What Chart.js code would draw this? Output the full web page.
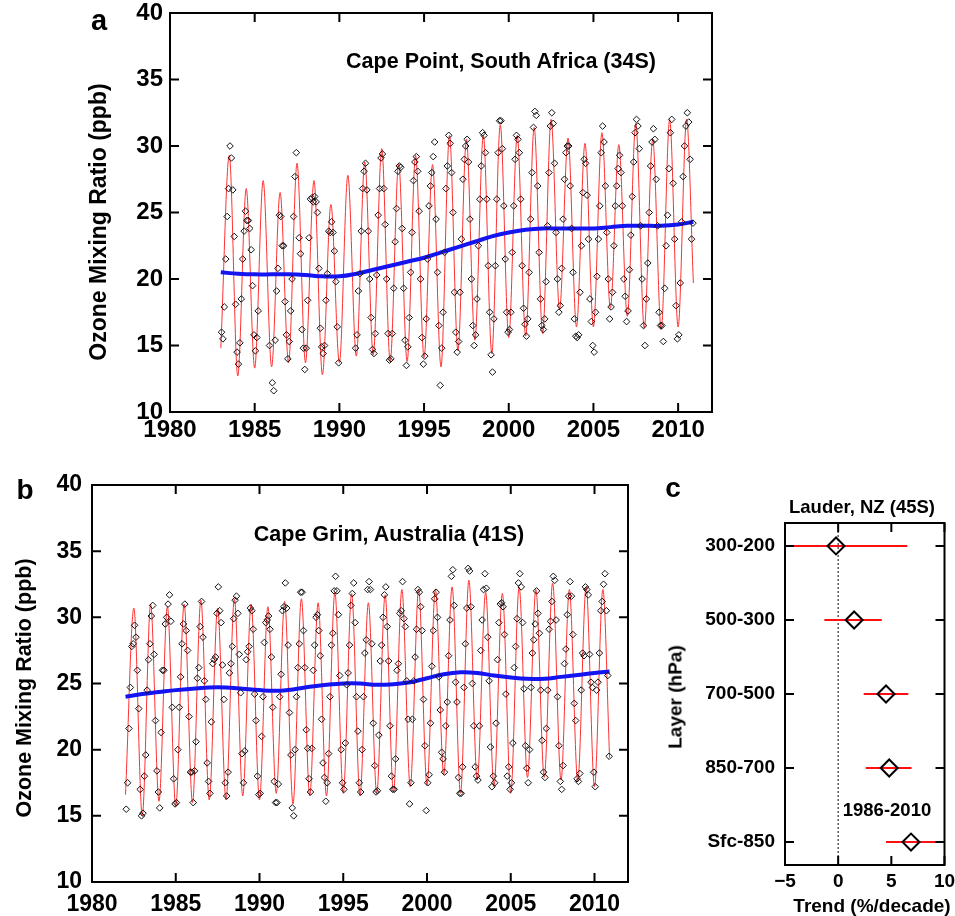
<!DOCTYPE html>
<html>
<head>
<meta charset="utf-8">
<script src="https://cdn.jsdelivr.net/npm/chart.js@4.4.1/dist/chart.umd.min.js"></script>
<style>
html, body { margin: 0; padding: 0; background: #fff; }
#page { position: relative; width: 955px; height: 916px; overflow: hidden; background: #fff;
        font-family: "Liberation Sans", Arial, sans-serif; font-weight: bold; color: #000; }
#page canvas { position: absolute; }
.lbl { position: absolute; white-space: nowrap; line-height: 1; transform: translate(-50%, -50%); }
.vlbl { position: absolute; white-space: nowrap; line-height: 1; transform: translate(-50%, -50%) rotate(-90deg); }
</style>
</head>
<body>
<div id="page">
  <canvas id="chartA" width="740" height="460" style="left:0;top:0"></canvas>
  <canvas id="chartB" width="650" height="446" style="left:0;top:470px"></canvas>
  <canvas id="chartC" width="305" height="446" style="left:650px;top:470px"></canvas>

  <div class="lbl" style="left:99px;top:20px;font-size:29px">a</div>
  <div class="lbl" style="left:25px;top:490px;font-size:28px">b</div>
  <div class="lbl" style="left:673px;top:488px;font-size:28px">c</div>

  <div class="lbl" style="left:501px;top:62px;font-size:21.5px">Cape Point, South Africa (34S)</div>
  <div class="lbl" style="left:389px;top:535px;font-size:21.5px">Cape Grim, Australia (41S)</div>
  <div class="lbl" style="left:862px;top:507px;font-size:18.5px">Lauder, NZ (45S)</div>
  <div class="lbl" style="left:887px;top:810px;font-size:18.5px">1986-2010</div>

  <div class="vlbl" style="left:98px;top:222px;font-size:23px">Ozone Mixing Ratio (ppb)</div>
  <div class="vlbl" style="left:25px;top:688px;font-size:21.5px">Ozone Mixing Ratio (ppb)</div>
  <div class="vlbl" style="left:675px;top:697px;font-size:19px">Layer (hPa)</div>
  <div class="lbl" style="left:872px;top:905px;font-size:19px">Trend (%/decade)</div>
</div>

<script>
// ---- Cape Point (panel a): monthly observations, one row per year, Jan..Dec
const capePointFirstYear = 1983;
const capePointMonthly = [
  [16.0, 15.5, 17.9, 21.5, 24.7, 26.8, 30.0, 29.1, 26.7, 23.2, 18.1, 14.5],
  [13.6, 15.2, 18.5, 21.5, 23.6, 25.1, 24.4, 24.4, 23.8, 22.2, 19.5, 15.8],
  [14.6, 15.6, 17.6, null, null, null, null, null, null, null, 15.0, null],
  [12.2, 11.6, 15.4, 19.1, 20.8, 24.8, 24.7, 22.5, 22.5, 18.3, 15.8, 14.0],
  [15.3, 17.6, 20.0, 24.7, 27.7, 29.5, null, 23.1, 21.9, 16.2, 14.8, 13.2],
  [14.8, 18.4, 23.1, 26.0, 26.1, 25.8, 26.2, 25.8, 25.0, 20.8, 16.3, 14.9],
  [14.4, 15.0, 18.4, 20.4, 23.6, 23.5, 24.3, 23.5, 22.1, 19.8, 16.4, 13.7],
  [null, null, null, null, null, null, null, null, null, null, null, 14.8],
  [15.8, 19.1, 20.4, 23.6, 26.8, 28.1, 28.7, 26.7, 23.6, 20.0, 17.1, 14.7],
  [14.4, 15.9, 20.3, 24.8, 26.8, 29.1, 29.4, 26.8, 24.1, 20.0, 15.9, 13.9],
  [14.0, 15.9, 19.3, 22.8, 25.3, 28.1, 28.5, 28.4, 23.8, 19.3, 15.4, 13.5],
  [14.9, 17.1, 20.5, 23.5, 27.4, 28.8, 29.2, 28.1, 25.1, 20.0, 15.6, 13.6],
  [14.2, 17.0, 21.5, 25.5, 27.0, 28.0, 29.2, 30.3, 24.5, 20.5, 16.5, 12.0],
  [14.8, 17.5, 22.0, 26.8, 28.5, 30.8, 30.2, 28.0, 25.0, 19.0, 16.0, 14.5],
  [15.3, 19.0, 23.0, 27.5, 29.0, 30.0, 30.5, 28.8, 24.5, 20.0, 16.5, 15.0],
  [15.8, 18.5, 22.5, 26.0, 28.5, 31.0, 30.8, 29.5, 26.0, 21.0, 17.5, 14.3],
  [13.0, 17.0, 21.0, 26.0, 29.5, 31.9, 31.9, 29.8, 25.5, 21.5, 17.5, 16.0],
  [16.2, 17.5, 22.0, 25.5, 29.0, 30.8, 30.5, 29.5, 26.0, 21.0, 17.8, 16.6],
  [15.7, 17.0, 20.5, 24.5, 28.0, 31.4, 32.6, 32.3, 27.0, 22.0, 18.5, 16.5],
  [16.2, 17.0, 19.8, 24.0, 28.0, 31.5, 32.5, 31.7, 28.7, 23.5, 20.0, 17.5],
  [18.0, 20.8, 24.5, 27.5, 29.5, 30.0, 30.0, 27.0, 23.8, 20.5, 17.0, 15.7],
  [15.6, 15.8, 19.0, 22.5, 26.5, 29.0, 28.7, 26.3, 23.0, 18.5, 16.8, 15.0],
  [14.5, 17.5, 20.2, 23.0, 25.5, 29.5, 31.5, 30.3, 27.0, 23.5, 20.0, 17.0],
  [17.9, 19.0, 22.5, 25.5, 27.0, 28.3, 29.3, 28.0, 25.5, 20.0, 18.7, 16.8],
  [17.6, 20.7, 23.3, 26.2, 28.8, 31.0, 32.0, 31.5, 29.8, 24.0, 20.0, 16.5],
  [15.0, 18.5, 21.2, 25.0, 28.5, 30.3, 31.3, 30.5, 27.5, 24.0, 17.5, 16.5],
  [16.5, 15.3, 19.3, 22.5, 24.8, 28.3, 31.0, 32.0, 27.2, 23.0, 18.0, 15.5],
  [15.8, 19.7, 24.3, 27.7, 30.0, 31.5, 32.5, 31.8, 29.0, 23.0, 24.2, null]
];
// seasonal fit (red): [year, ppb] at summer minima / winter maxima
const capePointFit = [
  [1983.0, 14.8], [1983.5, 29.3], [1984.0, 12.7], [1984.5, 26.8], [1985.0, 13.3], [1985.5, 27.4],
  [1986.0, 13.4], [1986.5, 26.5], [1987.0, 13.7], [1987.5, 28.7], [1988.0, 13.7], [1988.5, 27.4],
  [1989.0, 12.8], [1989.5, 25.6], [1990.0, 13.7], [1990.5, 27.8], [1991.0, 14.2], [1991.5, 28.8],
  [1992.0, 14.3], [1992.5, 29.8], [1993.0, 13.8], [1993.5, 28.7], [1994.0, 13.8], [1994.5, 29.3],
  [1995.0, 14.1], [1995.5, 28.6], [1996.0, 13.4], [1996.5, 30.8], [1997.0, 14.6], [1997.5, 30.5],
  [1998.0, 15.4], [1998.5, 30.8], [1999.0, 14.4], [1999.5, 31.6], [2000.0, 15.6], [2000.5, 30.8],
  [2001.0, 15.7], [2001.5, 31.4], [2002.0, 15.9], [2002.5, 32.0], [2003.0, 17.7], [2003.5, 30.6],
  [2004.0, 16.4], [2004.5, 30.2], [2005.0, 16.4], [2005.5, 31.0], [2006.0, 17.8], [2006.5, 30.1],
  [2007.0, 17.2], [2007.5, 31.7], [2008.0, 16.3], [2008.5, 30.5], [2009.0, 16.2], [2009.5, 32.0],
  [2010.0, 16.4], [2010.5, 32.0], [2010.9, 19.7]
];
// trend (blue)
const capePointTrendYears = [1983, 1984, 1985, 1986, 1987, 1988, 1989, 1990, 1991, 1992, 1993, 1994, 1995, 1996,
  1997, 1998, 1999, 2000, 2001, 2002, 2003, 2004, 2005, 2006, 2007, 2008, 2009, 2010, 2010.9];
const capePointTrend = [20.5, 20.4, 20.35, 20.35, 20.35, 20.3, 20.2, 20.2, 20.4, 20.7, 21.0, 21.3, 21.6, 22.0,
  22.4, 22.8, 23.2, 23.5, 23.7, 23.8, 23.8, 23.8, 23.8, 23.9, 24.0, 24.0, 24.0, 24.1, 24.3];

// ---- Cape Grim (panel b)
const capeGrimFirstYear = 1982;
const capeGrimMonthly = [
  [15.5, 17.5, 21.6, 24.7, 27.8, 28.0, 29.4, 28.5, 26.0, 23.1, 17.0, 15.0],
  [15.2, 18.0, 19.6, 24.5, 26.8, 28.0, 30.1, 30.9, 27.2, 22.2, 18.4, 16.8],
  [15.6, 21.3, 26.0, 26.0, 29.5, 30.0, 31.0, 31.7, 29.7, 23.2, 17.8, 15.9],
  [16.0, 20.0, 23.2, 25.5, 28.0, 29.5, 31.0, 29.0, 27.5, 22.5, 18.3, 18.3],
  [16.0, 18.4, 20.6, 25.4, 26.2, 29.3, 31.2, 28.5, 25.2, 23.8, 19.0, 17.6],
  [16.7, 22.1, 26.5, 26.8, 27.0, 30.3, 32.3, 30.5, 29.6, 26.4, 23.8, 17.5],
  [16.5, 18.3, 25.8, 26.5, 27.8, 29.9, 31.3, 31.6, 30.3, 27.2, 24.3, 19.7],
  [17.5, 19.9, 26.8, 27.4, 27.8, 30.7, 30.5, 29.1, 24.2, 22.2, 18.0, 16.6],
  [16.7, 21.0, 24.0, 28.1, 29.6, 29.8, 30.1, 29.1, 27.0, 23.2, 17.6, 16.0],
  [16.0, 17.4, 24.0, 25.7, 30.5, 30.8, 32.6, 30.7, 27.9, 22.8, 19.6, 15.6],
  [15.0, 20.0, 24.0, 26.2, 28.0, 31.9, 31.9, 29.0, 26.2, 21.5, 20.1, 17.8],
  [16.8, 20.1, 26.0, 27.9, 30.0, 30.2, 29.0, 27.1, 22.3, 19.0, 17.9, 16.1],
  [17.5, 19.7, 24.0, 27.9, 28.8, 32.0, 33.1, 32.0, 30.2, 25.6, 20.0, 17.5],
  [17.0, 20.5, 24.9, 25.8, 27.9, 30.9, 31.8, 32.6, 29.6, 24.0, 21.4, 17.5],
  [16.8, 20.0, 24.0, 27.3, 28.3, 32.1, 32.7, 32.1, 28.0, 22.0, 18.8, 16.8],
  [16.9, 21.1, 26.7, 27.9, 30.0, 31.7, 32.3, 29.3, 26.7, 21.8, 18.0, 17.0],
  [17.0, 19.3, 26.0, 26.5, 30.3, 30.5, 32.7, 29.9, 29.3, 25.2, 22.3, 15.9],
  [17.5, 22.3, 25.2, 27.0, 29.1, 32.1, 31.9, 30.8, 29.0, 23.8, 20.3, 15.4],
  [17.5, 18.1, 22.0, 26.3, 29.0, 31.4, 31.9, 30.0, 25.5, 23.0, 19.8, 19.3],
  [18.3, 21.8, 23.6, 27.1, 29.8, 33.1, 33.6, 30.9, 25.1, 23.6, 17.9, 16.7],
  [16.7, 18.7, 24.7, 28.0, 30.7, 33.7, 33.5, 30.8, 25.0, 21.8, 18.7, 18.0],
  [17.7, 21.8, 27.5, 29.8, 32.1, 33.3, 32.2, 28.5, 25.2, 20.2, 17.2, 18.0],
  [17.5, 22.0, 26.8, 29.6, 31.0, 31.1, 30.8, 28.7, 24.2, 18.0, 18.7, 17.0],
  [17.5, 20.5, 26.2, 27.8, 29.9, 32.6, 33.3, 32.3, 29.6, 24.6, 20.3, 18.6],
  [17.5, 20.0, 24.7, 27.3, 28.3, 29.5, 32.0, 30.3, 28.8, 24.5, 20.7, 18.3],
  [17.9, 21.6, 24.5, 29.1, 29.7, 31.2, 33.1, 32.8, 29.8, 24.0, 20.3, 17.6],
  [17.0, 18.8, 26.5, 27.6, 30.2, 31.6, 32.7, 31.6, 28.7, 23.5, 22.2, 17.8],
  [17.6, 18.2, 24.5, 27.3, 27.1, 32.3, 32.1, 31.7, 27.2, 25.1, 24.7, 18.3],
  [17.2, 24.5, 25.1, 27.3, 30.5, 31.2, 32.5, 33.3, 30.5, 25.6, 19.5, null]
];
const capeGrimFit = [
  [1982.0, 16.6], [1982.5, 30.7], [1983.0, 15.0], [1983.5, 31.0], [1984.0, 16.1], [1984.5, 30.8],
  [1985.0, 15.7], [1985.5, 31.0], [1986.0, 16.0], [1986.5, 31.3], [1987.0, 16.2], [1987.5, 30.7],
  [1988.0, 16.2], [1988.5, 31.4], [1989.0, 16.5], [1989.5, 31.0], [1990.0, 16.2], [1990.5, 30.8],
  [1991.0, 16.7], [1991.5, 31.2], [1992.0, 15.9], [1992.5, 31.4], [1993.0, 16.5], [1993.5, 31.1],
  [1994.0, 16.5], [1994.5, 31.9], [1995.0, 16.7], [1995.5, 31.8], [1996.0, 16.5], [1996.5, 31.1],
  [1997.0, 16.7], [1997.5, 31.7], [1998.0, 16.8], [1998.5, 32.1], [1999.0, 17.2], [1999.5, 32.1],
  [2000.0, 17.3], [2000.5, 32.1], [2001.0, 18.1], [2001.5, 32.3], [2002.0, 16.7], [2002.5, 32.8],
  [2003.0, 17.7], [2003.5, 31.9], [2004.0, 17.2], [2004.5, 31.8], [2005.0, 16.7], [2005.5, 32.3],
  [2006.0, 17.9], [2006.5, 32.1], [2007.0, 17.9], [2007.5, 32.6], [2008.0, 17.7], [2008.5, 32.1],
  [2009.0, 17.6], [2009.5, 32.3], [2010.0, 17.2], [2010.5, 32.1], [2010.9, 19.4]
];
const capeGrimTrendYears = [1982, 1983, 1984, 1985, 1986, 1987, 1988, 1989, 1990, 1991, 1992, 1993, 1994, 1995,
  1996, 1997, 1998, 1999, 2000, 2001, 2002, 2003, 2004, 2005, 2006, 2007, 2008, 2009, 2010, 2010.9];
const capeGrimTrend = [24.0, 24.2, 24.35, 24.5, 24.6, 24.7, 24.7, 24.6, 24.5, 24.45, 24.55, 24.75, 24.9, 25.0,
  25.0, 24.9, 24.95, 25.1, 25.4, 25.7, 25.85, 25.8, 25.6, 25.45, 25.35, 25.35, 25.5, 25.65, 25.8, 25.9];

// ---- Lauder trends by layer (panel c)
const layerNames = ['300-200', '500-300', '700-500', '850-700', 'Sfc-850'];
const layerTrend = [-0.2, 1.5, 4.5, 4.8, 6.85];
const layerLow = [-5.8, -1.3, 2.4, 2.6, 4.5];
const layerHigh = [6.5, 4.1, 6.6, 6.9, 9.2];

const yearTicks = { min: 1980, max: 2012, step: 5 };
const ppbTicks = { min: 10, max: 40, step: 5 };

const FONT = '"Liberation Sans", Arial, sans-serif';

// box frame with inward tick marks on every side
const innerFrame = {
  id: 'innerFrame',
  afterDraw(chart) {
    const { ctx, chartArea: a } = chart;
    const xs = chart.scales.x, ys = chart.scales.y;
    const len = 9;
    ctx.save();
    ctx.strokeStyle = '#000';
    ctx.lineWidth = 2;
    ctx.beginPath();
    xs.ticks.forEach(t => {
      const p = xs.getPixelForValue(t.value);
      ctx.moveTo(p, a.bottom); ctx.lineTo(p, a.bottom - len);
      ctx.moveTo(p, a.top); ctx.lineTo(p, a.top + len);
    });
    ys.ticks.forEach(t => {
      const p = ys.getPixelForValue(t.value);
      ctx.moveTo(a.left, p); ctx.lineTo(a.left + len, p);
      ctx.moveTo(a.right, p); ctx.lineTo(a.right - len, p);
    });
    ctx.stroke();
    ctx.strokeRect(a.left, a.top, a.width, a.height);
    ctx.restore();
  }
};

function monthlyPoints(firstYear, rows) {
  const pts = [];
  rows.forEach((row, i) => {
    row.forEach((v, m) => {
      if (v !== null) pts.push({ x: firstYear + i + (m + 0.5) / 12, y: v });
    });
  });
  return pts;
}

function seriesChart(id, obs, fit, trendYears, trend, cfg) {
  return new Chart(document.getElementById(id), {
    type: 'scatter',
    data: {
      datasets: [
        {
          data: obs,
          pointStyle: 'rectRot',
          pointRadius: 3.3,
          borderWidth: 1,
          borderColor: '#111',
          backgroundColor: 'rgba(255,255,255,0)'
        },
        {
          data: trendYears.map((x, i) => ({ x, y: trend[i] })),
          showLine: true,
          pointRadius: 0,
          borderColor: '#1414f0',
          borderWidth: 4,
          tension: 0.4
        },
        {
          data: fit.map(p => ({ x: p[0], y: p[1] })),
          showLine: true,
          pointRadius: 0,
          borderColor: '#ff3030',
          borderWidth: 1,
          cubicInterpolationMode: 'monotone'
        }
      ]
    },
    options: {
      responsive: false,
      animation: false,
      devicePixelRatio: 1,
      layout: { padding: cfg.padding },
      plugins: { legend: { display: false }, tooltip: { enabled: false } },
      scales: {
        x: {
          type: 'linear', min: yearTicks.min, max: yearTicks.max,
          grid: { display: false, drawTicks: false },
          border: { display: false },
          ticks: {
            stepSize: yearTicks.step, includeBounds: false, autoSkip: false, maxRotation: 0,
            padding: cfg.xPad, color: '#000',
            font: { family: FONT, size: cfg.tickSize, weight: 'bold' },
            callback: v => String(v)
          },
          afterFit: s => { s.height = cfg.xHeight; s.paddingLeft = 0; s.paddingRight = 0; }
        },
        y: {
          min: ppbTicks.min, max: ppbTicks.max,
          grid: { display: false, drawTicks: false },
          border: { display: false },
          ticks: {
            stepSize: ppbTicks.step, autoSkip: false, padding: cfg.yPad, color: '#000',
            font: { family: FONT, size: cfg.tickSize, weight: 'bold' }
          },
          afterFit: s => { s.width = cfg.yWidth; s.paddingTop = 0; s.paddingBottom = 0; }
        }
      }
    },
    plugins: [innerFrame]
  });
}

seriesChart('chartA', monthlyPoints(capePointFirstYear, capePointMonthly), capePointFit,
  capePointTrendYears, capePointTrend,
  { padding: { top: 13, right: 28, left: 0, bottom: 0 }, xHeight: 48, yWidth: 170, xPad: 4, yPad: 7, tickSize: 24 });

seriesChart('chartB', monthlyPoints(capeGrimFirstYear, capeGrimMonthly), capeGrimFit,
  capeGrimTrendYears, capeGrimTrend,
  { padding: { top: 15, right: 22, left: 0, bottom: 0 }, xHeight: 34, yWidth: 92, xPad: 9, yPad: 10, tickSize: 23 });

// panel c: trend diamonds with red uncertainty bars
const barSets = layerNames.map((name, i) => ({
  data: [{ x: layerLow[i], y: i }, { x: layerHigh[i], y: i }],
  showLine: true,
  pointRadius: 0,
  borderColor: '#ff1010',
  borderWidth: 2
}));

new Chart(document.getElementById('chartC'), {
  type: 'scatter',
  data: {
    datasets: [
      {
        data: layerTrend.map((v, i) => ({ x: v, y: i })),
        pointStyle: 'rectRot',
        pointRadius: 8.5,
        borderWidth: 2,
        borderColor: '#000',
        backgroundColor: 'rgba(255,255,255,0)'
      },
      ...barSets,
      {
        data: [{ x: 0, y: -0.31 }, { x: 0, y: 4.31 }],
        showLine: true,
        pointRadius: 0,
        borderColor: '#333',
        borderWidth: 1.2,
        borderDash: [2, 2]
      }
    ]
  },
  options: {
    responsive: false,
    animation: false,
    devicePixelRatio: 1,
    layout: { padding: { top: 53, right: 8, left: 0, bottom: 0 } },
    plugins: { legend: { display: false }, tooltip: { enabled: false } },
    scales: {
      x: {
        type: 'linear', min: -5, max: 10,
        grid: { display: false, drawTicks: false },
        border: { display: false },
        ticks: {
          stepSize: 5, autoSkip: false, maxRotation: 0, padding: 5, color: '#000',
          font: { family: FONT, size: 19, weight: 'bold' },
          callback: v => (v < 0 ? '\u2212' + Math.abs(v) : String(v))
        },
        afterFit: s => { s.height = 51; s.paddingLeft = 0; s.paddingRight = 0; }
      },
      y: {
        type: 'linear', min: -0.31, max: 4.31, reverse: true,
        grid: { display: false, drawTicks: false },
        border: { display: false },
        afterBuildTicks: s => { s.ticks = layerNames.map((n, i) => ({ value: i })); },
        ticks: {
          autoSkip: false, padding: 10, color: '#000',
          font: { family: FONT, size: 19, weight: 'bold' },
          callback: v => layerNames[v]
        },
        afterFit: s => { s.width = 135; s.paddingTop = 0; s.paddingBottom = 0; }
      }
    }
  },
  plugins: [innerFrame]
});
</script>
</body>
</html>
